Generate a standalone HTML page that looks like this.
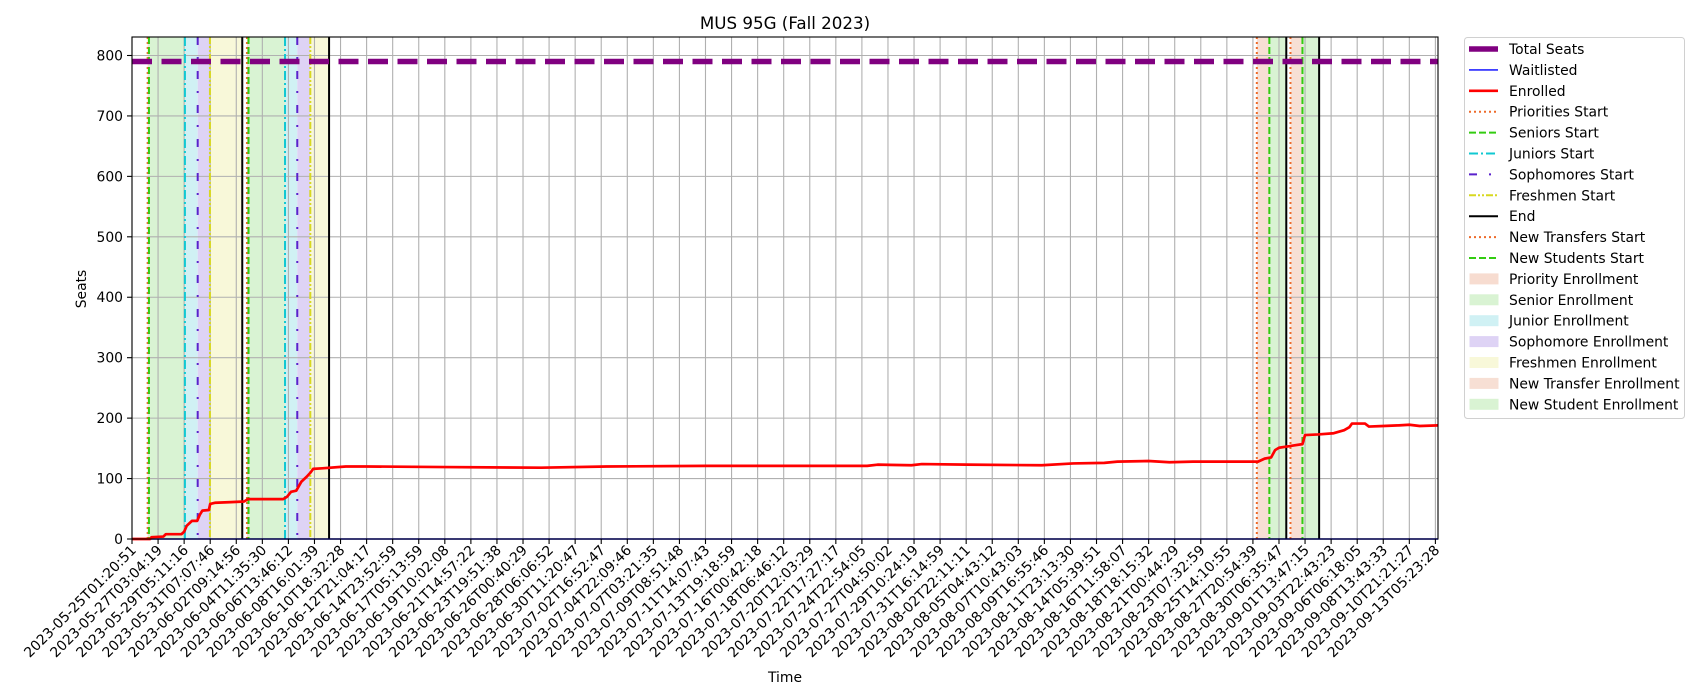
<!DOCTYPE html>
<html><head><meta charset="utf-8"><style>
body{margin:0;background:#fff;}
svg{display:block;font-family:"DejaVu Sans","Liberation Sans",sans-serif;}
</style></head><body>
<svg id="chart" width="1700" height="700" xmlns="http://www.w3.org/2000/svg">
<rect width="1700" height="700" fill="#fff"/>
<text x="785" y="29" text-anchor="middle" font-size="16.7">MUS 95G (Fall 2023)</text>
<g id="spans"></g><g id="grid"></g><g id="vlines"></g><g id="series"></g><g id="axes"></g><g id="legend"></g>
<text x="785" y="682" text-anchor="middle" font-size="13.9">Time</text>
<text transform="translate(86,289) rotate(-90)" text-anchor="middle" font-size="13.9">Seats</text>
</svg>
<script>
const tickLabels=["2023-05-25T01:20:51","2023-05-27T03:04:19","2023-05-29T05:11:16","2023-05-31T07:07:46","2023-06-02T09:14:56","2023-06-04T11:35:30","2023-06-06T13:46:12","2023-06-08T16:01:39","2023-06-10T18:32:28","2023-06-12T21:04:17","2023-06-14T23:52:59","2023-06-17T05:13:59","2023-06-19T10:02:08","2023-06-21T14:57:22","2023-06-23T19:51:38","2023-06-26T00:40:29","2023-06-28T06:06:52","2023-06-30T11:20:47","2023-07-02T16:52:47","2023-07-04T22:09:46","2023-07-07T03:21:35","2023-07-09T08:51:48","2023-07-11T14:07:43","2023-07-13T19:18:59","2023-07-16T00:42:18","2023-07-18T06:46:12","2023-07-20T12:03:29","2023-07-22T17:27:17","2023-07-24T22:54:05","2023-07-27T04:50:02","2023-07-29T10:24:19","2023-07-31T16:14:59","2023-08-02T22:11:11","2023-08-05T04:43:12","2023-08-07T10:43:03","2023-08-09T16:55:46","2023-08-11T23:13:30","2023-08-14T05:39:51","2023-08-16T11:58:07","2023-08-18T18:15:32","2023-08-21T00:44:29","2023-08-23T07:32:59","2023-08-25T14:10:55","2023-08-27T20:54:39","2023-08-30T06:35:47","2023-09-01T13:47:15","2023-09-03T22:43:23","2023-09-06T06:18:05","2023-09-08T13:43:33","2023-09-10T21:21:27","2023-09-13T05:23:28"];
const yTicks=[0,100,200,300,400,500,600,700,800];
const totalSeats=790;
const enrolledIdx=[0,0.7,0.75,1.2,1.3,1.9,2.0,2.1,2.3,2.5,2.6,2.7,2.95,3.0,3.2,3.8,4.3,4.45,5.8,5.95,6.1,6.3,6.5,6.7,6.85,6.95,7.3,8.2,9,12,15.7,18.2,22,28.2,28.6,29.9,30.3,32,34.9,36.1,37.3,37.8,39,39.8,40.7,42.8,43.2,43.45,43.7,43.85,44.0,44.3,44.6,44.9,45.0,45.5,46.1,46.5,46.7,46.8,47.3,47.45,48,48.6,49,49.4,50.1];
const enrolledVals=[0,0,3,4,8,8,12,22,30,30,40,47,48,58,60,61,62,66,66,70,78,80,95,103,110,116,117,120,120,119,118,120,121,121,123,122,124,123,122,125,126,128,129,127,128,128,128,133,135,147,151,153,155,157,172,173,175,180,185,191,191,186,187,188,189,187,188];
const waitIdx=[0,50.1], waitVals=[0,0];
// vertical marker positions (category-index units)
const prioStart=[0.6,4.41], seniorStart=[0.65,4.47], juniorStart=[2.03,5.87], sophStart=[2.52,6.34], freshStart=[2.99,6.84], endLines=[4.23,7.56,44.28,45.54];
const transferStart=[43.15,44.44], newStudStart=[43.63,44.9];

const L=132,R=1438,T=37,B=539,XMAX=50.1,YMAX=830.6;
const X=i=>L+(i/XMAX)*(R-L), Y=v=>B-(v/YMAX)*(B-T);
const NS="http://www.w3.org/2000/svg";
function mk(tag,attrs,parent){const e=document.createElementNS(NS,tag);for(const k in attrs)e.setAttribute(k,attrs[k]);document.getElementById(parent).appendChild(e);return e;}

// spans
function span(a,b,col,name){const r=mk('rect',{x:X(a),y:T,width:X(b)-X(a),height:B-T,fill:col},'spans');

}
for(let k=0;k<2;k++){
 span(prioStart[k],seniorStart[k],'#f7dcd0','priority-enrollment-span');
 span(seniorStart[k],juniorStart[k],'#d9f3d3','senior-enrollment-span');
 span(juniorStart[k],sophStart[k],'#d0f1f4','junior-enrollment-span');
 span(sophStart[k],freshStart[k],'#ded3f5','sophomore-enrollment-span');
 span(freshStart[k],endLines[k],'#f8f8d9','freshmen-enrollment-span');
 span(transferStart[k],newStudStart[k],'#f7dfd4','new-transfer-enrollment-span');
 span(newStudStart[k],endLines[k+2],'#d9f3d3','new-student-enrollment-span');
}
// grid
tickLabels.forEach((t,i)=>{const g=mk('line',{x1:X(i),x2:X(i),y1:T,y2:B,stroke:'#b0b0b0','stroke-width':1.1},'grid');

});
yTicks.forEach(v=>{const g=mk('line',{x1:L,x2:R,y1:Y(v),y2:Y(v),stroke:'#b0b0b0','stroke-width':1.1},'grid');

});
// vertical lines
function vl(arr,col,dash,w,name){arr.forEach(p=>{const l=mk('line',{x1:X(p),x2:X(p),y1:T,y2:B,stroke:col,'stroke-width':w,'stroke-dasharray':dash},'vlines');

});}
vl(prioStart,'#ee6a2a','2,3',2,'priorities-start-line');
vl(seniorStart,'#33cc11','7,3',2,'seniors-start-line');
vl(juniorStart,'#11c8d2','9,3,2,3',2,'juniors-start-line');
vl(sophStart,'#5a22cc','8,12,2,12',2,'sophomores-start-line');
vl(freshStart,'#d8d820','7,2,2,2,2,2',2,'freshmen-start-line');
vl(transferStart,'#ee6a2a','2,3',2,'new-transfers-start-line');
vl(newStudStart,'#33cc11','7,3',2,'new-students-start-line');
vl(endLines,'#000','none',2,'end-line');
// series
const ts=mk('line',{x1:L,x2:R,y1:Y(totalSeats),y2:Y(totalSeats),stroke:'#800080','stroke-width':5.5,'stroke-dasharray':'20,9.5'},'series');


const wl=mk('polyline',{points:waitIdx.map((d,i)=>X(d)+','+Y(waitVals[i])).join(' '),fill:'none',stroke:'#0000ff','stroke-width':1.4},'series');


const el=mk('polyline',{points:enrolledIdx.map((d,i)=>X(d)+','+Y(enrolledVals[i])).join(' '),fill:'none',stroke:'#ff0000','stroke-width':2.7,'stroke-linejoin':'round'},'series');


// axes
const fr=mk('rect',{x:L,y:T,width:R-L,height:B-T,fill:'none',stroke:'#000','stroke-width':1.1},'axes');


tickLabels.forEach((t,i)=>{mk('line',{x1:X(i),x2:X(i),y1:B,y2:B+5,stroke:'#000','stroke-width':1.1},'axes');
 const tx=mk('text',{transform:`translate(${X(i)+5},${B+12}) rotate(-45)`,'text-anchor':'end','font-size':13.9},'axes');
 
 
 tx.textContent=t;});
yTicks.forEach(v=>{mk('line',{x1:L-5,x2:L,y1:Y(v),y2:Y(v),stroke:'#000','stroke-width':1.1},'axes');
 const tx=mk('text',{x:L-9,y:Y(v)+5,'text-anchor':'end','font-size':13.9},'axes');
 
 
 tx.textContent=v;});
// legend
const lb=mk('rect',{x:1464.5,y:37.5,width:220,height:381,rx:3,fill:'#fff',stroke:'#d0d0d0'},'legend');


const items=[["Total Seats",'line','#800080',5.5,'none'],["Waitlisted",'line','#0000ff',1.4,'none'],["Enrolled",'line','#ff0000',2.7,'none'],["Priorities Start",'line','#ee6a2a',2,'2,3'],["Seniors Start",'line','#33cc11',2,'7,3'],["Juniors Start",'line','#11c8d2',2,'9,3,2,3'],["Sophomores Start",'line','#5a22cc',2,'8,12,2,12'],["Freshmen Start",'line','#d8d820',2,'7,2,2,2,2,2'],["End",'line','#000',2,'none'],["New Transfers Start",'line','#ee6a2a',2,'2,3'],["New Students Start",'line','#33cc11',2,'7,3'],["Priority Enrollment",'patch','#f7dcd0'],["Senior Enrollment",'patch','#d9f3d3'],["Junior Enrollment",'patch','#d0f1f4'],["Sophomore Enrollment",'patch','#ded3f5'],["Freshmen Enrollment",'patch','#f8f8d9'],["New Transfer Enrollment",'patch','#f7dfd4'],["New Student Enrollment",'patch','#d9f3d3']];
items.forEach((it,k)=>{const cy=49+k*20.9;
 if(it[1]==='line'){const h=mk('line',{x1:1469,x2:1498,y1:cy,y2:cy,stroke:it[2],'stroke-width':it[3],'stroke-dasharray':it[4]},'legend');
 
 }
 else{const h=mk('rect',{x:1470,y:cy-5,width:28,height:10,fill:it[2],stroke:it[2]},'legend');
 
 }
 const t=mk('text',{x:1509,y:cy+5,'font-size':13.9},'legend');
 
 
 t.textContent=it[0];});
</script>
</body></html>
